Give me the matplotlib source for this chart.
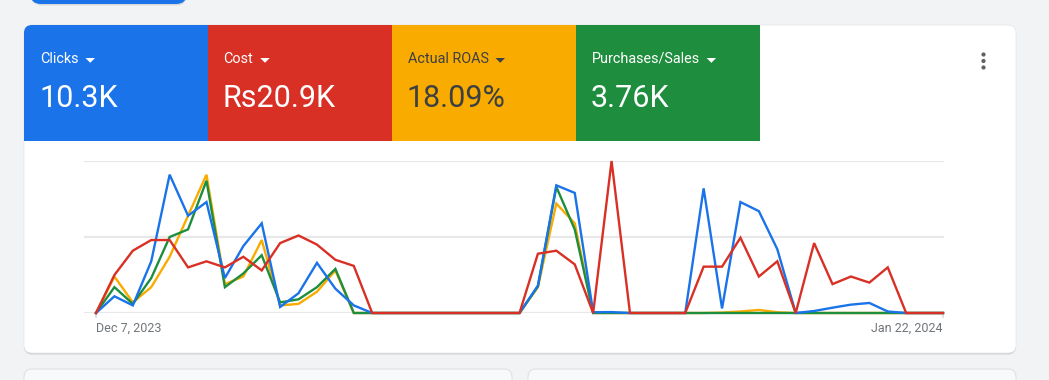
import matplotlib
matplotlib.use("Agg")
import matplotlib.pyplot as plt
from matplotlib.patches import FancyBboxPatch, Rectangle, Polygon, Circle
import numpy as np
import pandas as pd

# ---------------- data ----------------
dates = pd.date_range("2023-12-07", "2024-01-22", freq="D")
tick_labels = ["Dec 7, 2023", "Jan 22, 2024"]

metric_names = ["Clicks", "Cost", "Actual ROAS", "Purchases/Sales"]
metric_values = ["10.3K", "Rs20.9K", "18.09%", "3.76K"]
metric_colors = ["#1a73e8", "#d93025", "#f9ab00", "#1e8e3e"]
metric_text_colors = ["white", "white", "#3c4043", "white"]

# each series normalised to its own axis (top gridline = 100)
clicks = [0, 11, 5, 34, 91, 64, 73, 23, 44, 59, 4, 13, 33, 16, 5, 0,
          0, 0, 0, 0, 0, 0, 0, 0, 18, 84, 79, 0.5, 0.6, 0, 0, 0,
          0, 82, 3, 73, 67, 42, 0, 1.3, 3.5, 5.5, 6.6, 1, 0, 0, 0]
roas = [0, 24, 7, 17, 37, 64, 91, 19, 24, 48, 5, 6, 14, 28, 0, 0,
        0, 0, 0, 0, 0, 0, 0, 0, 17, 72, 59, 0, 0, 0, 0, 0,
        0, 0, 0.3, 1, 2, 0.5, 0, 0, 0, 0, 0, 0, 0, 0, 0]
purchases = [0, 17, 6, 23, 50, 55, 87, 17, 26, 38, 7, 9, 17, 29, 0, 0,
             0, 0, 0, 0, 0, 0, 0, 0, 17.5, 83, 55, 0, 0, 0, 0, 0,
             0, 0, 0, 0, 0, 0, 0, 0, 0, 0, 0, 0, 0, 0, 0]
cost = [0, 25, 41, 48, 48, 30, 34, 30, 37, 28, 46, 51, 45, 35, 31, 0,
        0, 0, 0, 0, 0, 0, 0, 0, 39, 41, 32, 0, 100, 0, 0, 0,
        0, 30.5, 30.5, 49.5, 24, 34, 0, 46, 19, 24, 20, 30, 0, 0, 0]

# ---------------- figure ----------------
W, H = 1049, 380
fig = plt.figure(figsize=(W / 100, H / 100), dpi=100)
fig.patch.set_facecolor("#f1f3f4")

bg = fig.add_axes([0, 0, 1, 1], zorder=0)
bg.set_xlim(0, W)
bg.set_ylim(H, 0)
bg.axis("off")
bg.set_facecolor("none")

# top partial button
bg.add_patch(FancyBboxPatch((31, -30), 156, 35.5, boxstyle="round,pad=0,rounding_size=11",
                            fc="#c4c7cc", ec="none", alpha=0.6))
bg.add_patch(FancyBboxPatch((30, -30), 157, 34, boxstyle="round,pad=0,rounding_size=11",
                            fc="#1a73e8", ec="none"))

# card shadow + card
bg.add_patch(FancyBboxPatch((24, 26), 992, 328.5, boxstyle="round,pad=0,rounding_size=8",
                            fc="#c8cacd", ec="none", alpha=0.8))
bg.add_patch(FancyBboxPatch((24, 25), 992, 328, boxstyle="round,pad=0,rounding_size=8",
                            fc="white", ec="#e3e4e6", lw=0.5))

# bottom cards
for x0, x1 in [(24, 512), (528, 1016)]:
    bg.add_patch(FancyBboxPatch((x0, 369), x1 - x0, 40, boxstyle="round,pad=0,rounding_size=8",
                                fc="#f8f9fa", ec="#dfe1e4", lw=0.8))

# metric tiles
tile_x = [24, 207.5, 391.5, 575.5]
tile_w = 184
renderer = fig.canvas.get_renderer()
for i, (name, val, col, tcol) in enumerate(zip(metric_names, metric_values,
                                               metric_colors, metric_text_colors)):
    x0 = tile_x[i]
    if i == 0:
        bg.add_patch(FancyBboxPatch((x0, 25), tile_w + 10, 116, boxstyle="round,pad=0,rounding_size=8",
                                    fc=col, ec="none"))
        bg.add_patch(Rectangle((x0, 45), tile_w, 96, fc=col, ec="none"))
    else:
        bg.add_patch(Rectangle((x0, 25), tile_w + (0.5 if i < 3 else 0), 116, fc=col, ec="none"))
    t = bg.text(x0 + 16, 62.8, name, color=tcol, fontsize=10.4, family="Roboto",
                ha="left", va="baseline")
    bb = t.get_window_extent(renderer)
    xr = bg.transData.inverted().transform((bb.x1, bb.y0))[0]
    tx = xr + 7
    bg.add_patch(Polygon([(tx, 58), (tx + 9.5, 58), (tx + 4.75, 62.8)], closed=True,
                         fc=tcol, ec="none"))
    bg.text(x0 + 15, 106.8, val, color=tcol, fontsize=22, family="Roboto",
            ha="left", va="baseline")

# three dots menu
for yy in (54.5, 61, 67.5):
    bg.add_patch(Circle((983.5, yy), 2.1, fc="#5f6368", ec="none"))

# ---------------- chart ----------------
x = np.arange(len(dates))
sp = (943 - 96) / (len(dates) - 1)
left_px, right_px, top_px, bot_px = 84, 944, 161, 313
ax = fig.add_axes([left_px / W, (H - bot_px) / H, (right_px - left_px) / W, (bot_px - top_px) / H],
                  zorder=2)
ax.set_facecolor("none")
ax.set_xlim(-(96 - left_px) / sp, (len(dates) - 1) + (right_px - 943) / sp)
ax.set_ylim(0, 100)
for s in ax.spines.values():
    s.set_visible(False)
for yv in (0, 50, 100):
    ax.axhline(yv, color="#e8e8e8", lw=1.6, zorder=0)

series = [(roas, "#f9ab00"), (purchases, "#1e8e3e"), (clicks, "#1a73e8"), (cost, "#d93025")]
for k, (vals, col) in enumerate(series):
    ax.plot(x, vals, color=col, lw=1.7, clip_on=False, zorder=3 + k,
            solid_joinstyle="miter")

ax.set_yticks([])
ax.set_xticks([0, len(dates) - 1])
ax.set_xticklabels(tick_labels, family="Roboto", fontsize=9, color="#70757a")
labs = ax.get_xticklabels()
labs[0].set_ha("left")
labs[1].set_ha("right")
ax.tick_params(axis="x", length=3.8, width=1.2, color="#dadce0", pad=2.5)

fig.savefig("out.png", dpi=100, facecolor=fig.get_facecolor())
